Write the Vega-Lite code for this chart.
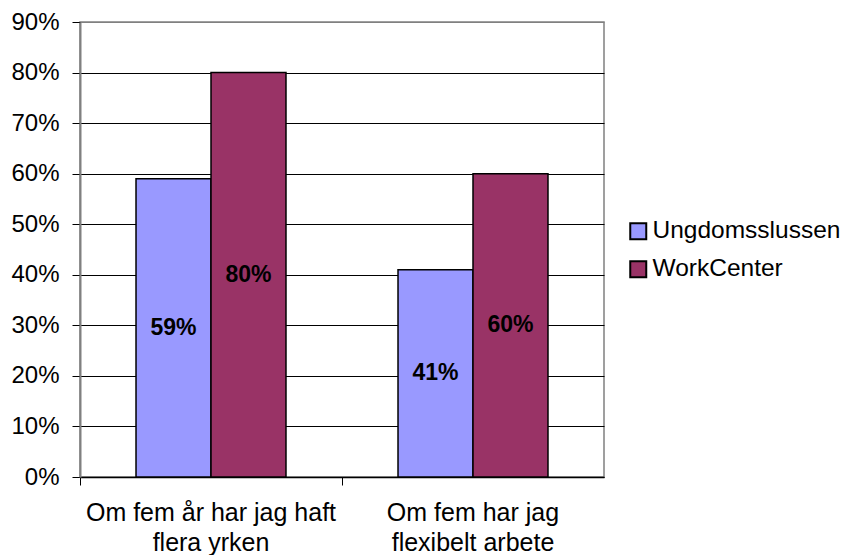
{
  "$schema": "https://vega.github.io/schema/vega-lite/v6.json",
  "width": 524,
  "height": 455,
  "autosize": "none",
  "padding": {"left": 80, "top": 22, "right": 248, "bottom": 78},
  "background": "white",
  "config": {
    "font": "Liberation Sans",
    "view": {"stroke": "#808080", "strokeWidth": 1.5}
  },
  "data": {
    "values": [
      {"kategori": "Om fem år har jag haft|flera yrken", "grupp": "Ungdomsslussen", "andel": 0.59},
      {"kategori": "Om fem år har jag haft|flera yrken", "grupp": "WorkCenter", "andel": 0.80},
      {"kategori": "Om fem har jag|flexibelt arbete", "grupp": "Ungdomsslussen", "andel": 0.41},
      {"kategori": "Om fem har jag|flexibelt arbete", "grupp": "WorkCenter", "andel": 0.60}
    ]
  },
  "encoding": {
    "x": {
      "field": "kategori",
      "type": "nominal",
      "sort": null,
      "scale": {"paddingInner": 0, "paddingOuter": 0},
      "axis": {
        "title": null,
        "labelAngle": 0,
        "labelExpr": "split(datum.label, '|')",
        "labelFontSize": 25,
        "labelColor": "black",
        "labelLineHeight": 30,
        "labelPadding": 15,
        "labelLimit": 320,
        "bandPosition": 0,
        "ticks": true,
        "tickSize": 8,
        "tickColor": "black",
        "domainColor": "black",
        "domainWidth": 1.5
      }
    },
    "xOffset": {
      "field": "grupp",
      "type": "nominal",
      "scale": {"paddingInner": 0, "paddingOuter": 0.747}
    }
  },
  "layer": [
    {
      "mark": {"type": "bar", "stroke": "black", "strokeWidth": 1.5},
      "encoding": {
        "y": {
          "field": "andel",
          "type": "quantitative",
          "scale": {"domain": [0, 0.9]},
          "axis": {
            "title": null,
            "format": ".0%",
            "values": [0, 0.1, 0.2, 0.3, 0.4, 0.5, 0.6, 0.7, 0.8, 0.9],
            "labelFontSize": 24,
            "labelColor": "black",
            "labelPadding": 13,
            "tickSize": 8,
            "tickColor": "black",
            "domainColor": "#808080",
            "domainWidth": 2,
            "grid": true,
            "gridColor": {"condition": {"test": "datum.value >= 0.9", "value": "#808080"}, "value": "black"},
            "gridWidth": 1
          }
        },
        "fill": {
          "field": "grupp",
          "type": "nominal",
          "scale": {"domain": ["Ungdomsslussen", "WorkCenter"], "range": ["#9999FF", "#993366"]},
          "legend": {
            "title": null,
            "orient": "none",
            "legendX": 546,
            "legendY": 197,
            "symbolType": "square",
            "symbolSize": 256,
            "symbolStrokeColor": "black",
            "symbolStrokeWidth": 2,
            "labelFontSize": 24.5,
            "labelColor": "black",
            "labelOffset": 2,
            "labelLimit": 320,
            "rowPadding": 12
          }
        }
      }
    },
    {
      "mark": {"type": "text", "fontSize": 23, "fontWeight": "bold", "color": "black", "baseline": "middle"},
      "encoding": {
        "y": {
          "field": "andel",
          "type": "quantitative",
          "scale": {"domain": [0, 1.8]},
          "axis": null
        },
        "text": {"field": "andel", "type": "quantitative", "format": ".0%"}
      }
    }
  ],
  "resolve": {"scale": {"y": "independent"}}
}
